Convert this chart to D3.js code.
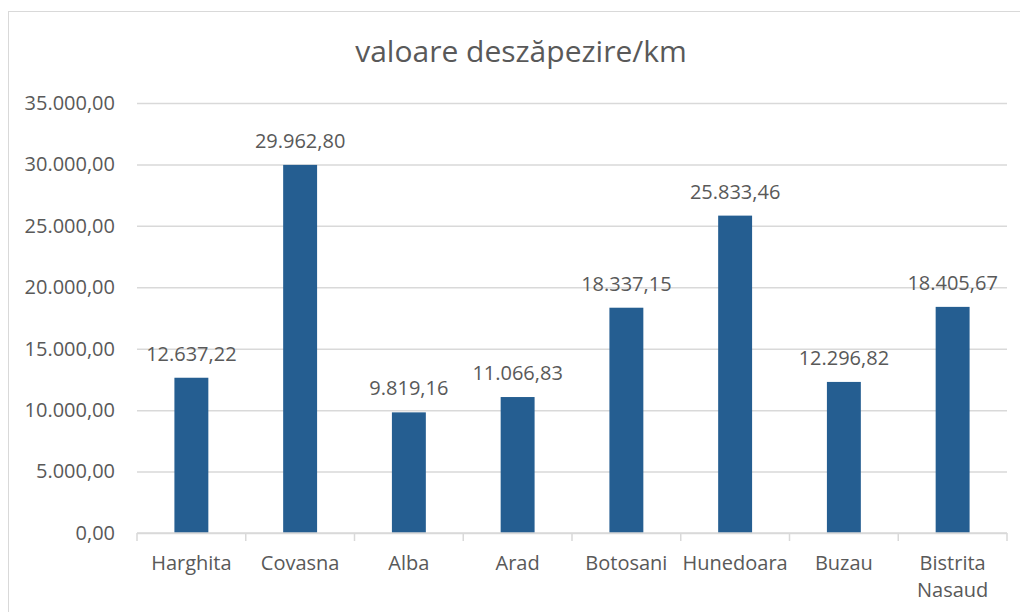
<!DOCTYPE html>
<html>
<head>
<meta charset="utf-8">
<script src="https://cdn.jsdelivr.net/npm/d3@7"></script>
<style>
  body { margin: 0; background: #fff; }
  text { font-family: "Open Sans", sans-serif; fill: #595959; }
</style>
</head>
<body>
<svg id="chart"></svg>
<script>
// data
const counties = ["Harghita", "Covasna", "Alba", "Arad", "Botosani", "Hunedoara", "Buzau", "Bistrita Nasaud"];
const values = [12637.22, 29962.80, 9819.16, 11066.83, 18337.15, 25833.46, 12296.82, 18405.67];
const yTicks = [0, 5000, 10000, 15000, 20000, 25000, 30000, 35000];

// constants
const width = 1020;
const height = 612;
const plot = { left: 137, right: 1007, top: 103, bottom: 533 };

const svg = d3.select('#chart')
  .attr('width', width)
  .attr('height', height);

// romanian number format
const ro = d3.formatLocale({ decimal: ",", thousands: ".", grouping: [3], currency: ["", ""] });
const fmt = ro.format(",.2f");

// chart area border
svg.append('rect')
  .attr('x', 8.5)
  .attr('y', 11.5)
  .attr('width', 1100)
  .attr('height', 700)
  .attr('fill', 'none')
  .attr('stroke', '#d9d9d9');

// title
svg.append('text')
  .attr('x', 521)
  .attr('y', 62)
  .attr('text-anchor', 'middle')
  .style('font-size', '30px')
  .text('valoare deszăpezire/km');

const x = d3.scaleBand()
  .domain(counties)
  .range([plot.left, plot.right])
  .paddingInner(0.688)
  .paddingOuter(0.344);

const y = d3.scaleLinear()
  .domain([0, 35000])
  .range([plot.bottom, plot.top]);

// gridlines + y labels
const yAxis = svg.append('g')
  .attr('transform', 'translate(' + plot.left + ',0)')
  .call(d3.axisLeft(y).tickValues(yTicks).tickFormat(fmt).tickSize(-(plot.right - plot.left)).tickPadding(22));
yAxis.select('.domain').remove();
yAxis.selectAll('line').attr('stroke', '#d9d9d9').attr('stroke-width', 1.5);
yAxis.selectAll('text').style('font-size', '20px').attr('fill', '#595959').style('font-family', '"Open Sans", sans-serif');

// bars
svg.selectAll('.bar')
  .data(counties)
  .enter().append('rect')
  .attr('class', 'bar')
  .attr('x', d => x(d))
  .attr('y', (d, i) => y(values[i]))
  .attr('width', x.bandwidth())
  .attr('height', (d, i) => y(0) - y(values[i]))
  .attr('fill', '#255e91');

// value labels
svg.selectAll('.val')
  .data(counties)
  .enter().append('text')
  .attr('class', 'val')
  .attr('x', d => x(d) + x.bandwidth() / 2)
  .attr('y', (d, i) => y(values[i]) - 17)
  .attr('text-anchor', 'middle')
  .style('font-size', '20px')
  .text((d, i) => fmt(values[i]));

// x axis line and category separators
svg.append('line')
  .attr('x1', plot.left).attr('x2', plot.right)
  .attr('y1', plot.bottom).attr('y2', plot.bottom)
  .attr('stroke', '#d9d9d9').attr('stroke-width', 1.5);

const step = x.step();
svg.selectAll('.sep')
  .data(d3.range(counties.length + 1))
  .enter().append('line')
  .attr('class', 'sep')
  .attr('x1', i => plot.left + i * step)
  .attr('x2', i => plot.left + i * step)
  .attr('y1', plot.bottom)
  .attr('y2', plot.bottom + 8)
  .attr('stroke', '#d9d9d9').attr('stroke-width', 1.5);

// category labels (wrap two-word names)
svg.selectAll('.cat')
  .data(counties)
  .enter().append('text')
  .attr('class', 'cat')
  .attr('x', d => x(d) + x.bandwidth() / 2)
  .attr('y', 570)
  .attr('text-anchor', 'middle')
  .style('font-size', '20px')
  .each(function(d) {
    const words = d.split(' ');
    const cx = x(d) + x.bandwidth() / 2;
    d3.select(this).selectAll('tspan')
      .data(words)
      .enter().append('tspan')
      .attr('x', cx)
      .attr('dy', (w, j) => j === 0 ? 0 : 27)
      .text(w => w);
  });
</script>
</body>
</html>
